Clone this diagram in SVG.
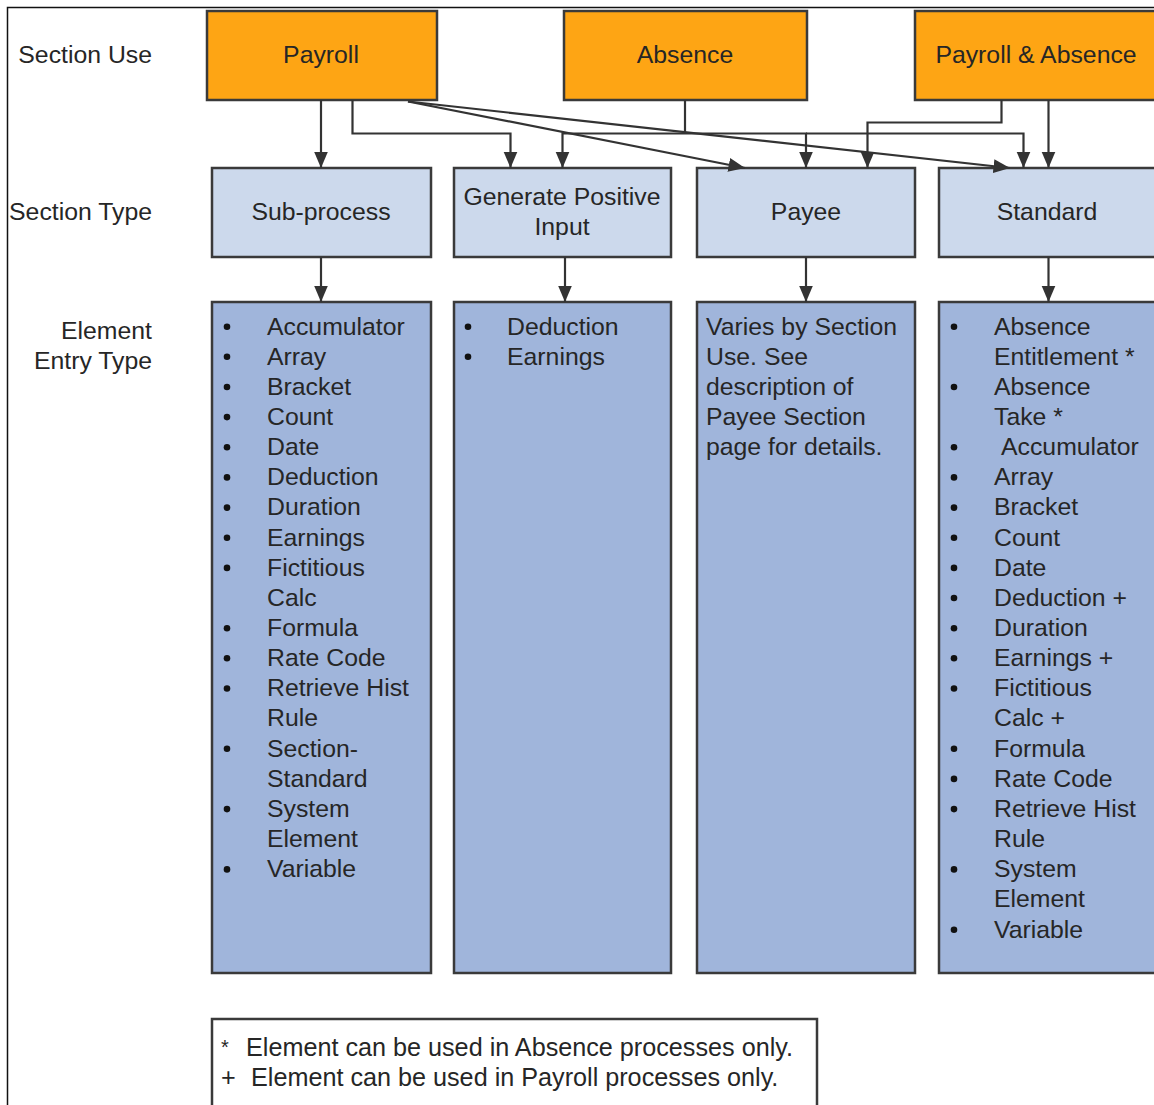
<svg xmlns="http://www.w3.org/2000/svg" width="1154" height="1105" viewBox="0 0 1154 1105">
  <style>
    text { font-family: "Liberation Sans", Arial, sans-serif; font-size: 24.8px; fill: #262626; }
    .mid { text-anchor: middle; }
    .end { text-anchor: end; }
    .note { font-size: 25.2px; }
    .use { fill: #FEA514; stroke: #3a3a3a; stroke-width: 2.5; }
    .type { fill: #CCD9EC; stroke: #3a3a3a; stroke-width: 2.5; }
    .entry { fill: #A0B5DB; stroke: #3a3a3a; stroke-width: 2.5; }
    .legend { fill: #ffffff; stroke: #3a3a3a; stroke-width: 2.5; }
    .wire { fill: none; stroke: #333333; stroke-width: 2.2; marker-end: url(#arrow); }
    .bullet { fill: #111111; }
  </style>
  <defs>
    <marker id="arrow" markerUnits="userSpaceOnUse" markerWidth="18" markerHeight="18" viewBox="0 0 18 18" refX="16.5" refY="9" orient="auto">
      <path d="M0,2 L16.5,9 L0,16 Z" fill="#333333"/>
    </marker>
  </defs>

  <rect width="1154" height="1105" fill="#ffffff"/>
  <!-- page frame -->
  <path d="M7.5,1105 V7.5 H1154" fill="none" stroke="#111111" stroke-width="1.5"/>

  <!-- row labels -->
  <g id="row-labels">
    <text class="end" x="152" y="63">Section Use</text>
    <text class="end" x="152" y="220">Section Type</text>
    <text class="end" x="152" y="339">Element</text>
    <text class="end" x="152" y="369">Entry Type</text>
  </g>

  <!-- section use -->
  <g id="use-payroll">
    <rect class="use" x="207" y="11" width="230" height="89"/>
    <text class="mid" x="321" y="63">Payroll</text>
  </g>
  <g id="use-absence">
    <rect class="use" x="564" y="11" width="243" height="89"/>
    <text class="mid" x="685" y="63">Absence</text>
  </g>
  <g id="use-payroll-absence">
    <rect class="use" x="915" y="11" width="245" height="89"/>
    <text class="mid" x="1036" y="63">Payroll &amp; Absence</text>
  </g>

  <!-- section type -->
  <g id="type-subprocess">
    <rect class="type" x="212" y="168" width="219" height="89"/>
    <text class="mid" x="321" y="220">Sub-process</text>
  </g>
  <g id="type-gpi">
    <rect class="type" x="454" y="168" width="217" height="89"/>
    <text class="mid" x="562" y="205">Generate Positive</text>
    <text class="mid" x="562" y="235">Input</text>
  </g>
  <g id="type-payee">
    <rect class="type" x="697" y="168" width="218" height="89"/>
    <text class="mid" x="806" y="220">Payee</text>
  </g>
  <g id="type-standard">
    <rect class="type" x="939" y="168" width="220" height="89"/>
    <text class="mid" x="1047" y="220">Standard</text>
  </g>

  <!-- element entry types -->
  <g id="entry-subprocess">
    <rect class="entry" x="212" y="302" width="219" height="671"/>
    <g class="bullet">
      <circle cx="227" cy="326.7" r="3.3"/>
      <circle cx="227" cy="356.8" r="3.3"/>
      <circle cx="227" cy="387" r="3.3"/>
      <circle cx="227" cy="417.1" r="3.3"/>
      <circle cx="227" cy="447.3" r="3.3"/>
      <circle cx="227" cy="477.4" r="3.3"/>
      <circle cx="227" cy="507.6" r="3.3"/>
      <circle cx="227" cy="537.7" r="3.3"/>
      <circle cx="227" cy="567.9" r="3.3"/>
      <circle cx="227" cy="628.2" r="3.3"/>
      <circle cx="227" cy="658.3" r="3.3"/>
      <circle cx="227" cy="688.5" r="3.3"/>
      <circle cx="227" cy="748.8" r="3.3"/>
      <circle cx="227" cy="809.1" r="3.3"/>
      <circle cx="227" cy="869.4" r="3.3"/>
    </g>
    <text x="267" y="334.5">Accumulator</text>
    <text x="267" y="364.65">Array</text>
    <text x="267" y="394.8">Bracket</text>
    <text x="267" y="424.95">Count</text>
    <text x="267" y="455.1">Date</text>
    <text x="267" y="485.25">Deduction</text>
    <text x="267" y="515.4">Duration</text>
    <text x="267" y="545.55">Earnings</text>
    <text x="267" y="575.7">Fictitious</text>
    <text x="267" y="605.85">Calc</text>
    <text x="267" y="636">Formula</text>
    <text x="267" y="666.15">Rate Code</text>
    <text x="267" y="696.3">Retrieve Hist</text>
    <text x="267" y="726.45">Rule</text>
    <text x="267" y="756.6">Section-</text>
    <text x="267" y="786.75">Standard</text>
    <text x="267" y="816.9">System</text>
    <text x="267" y="847.05">Element</text>
    <text x="267" y="877.2">Variable</text>
  </g>

  <g id="entry-gpi">
    <rect class="entry" x="454" y="302" width="217" height="671"/>
    <g class="bullet">
      <circle cx="468" cy="326.7" r="3.3"/>
      <circle cx="468" cy="356.8" r="3.3"/>
    </g>
    <text x="507" y="334.5">Deduction</text>
    <text x="507" y="364.65">Earnings</text>
  </g>

  <g id="entry-payee">
    <rect class="entry" x="697" y="302" width="218" height="671"/>
    <text x="706" y="334.5">Varies by Section</text>
    <text x="706" y="364.65">Use. See</text>
    <text x="706" y="394.8">description of</text>
    <text x="706" y="424.95">Payee Section</text>
    <text x="706" y="455.1">page for details.</text>
  </g>

  <g id="entry-standard">
    <rect class="entry" x="939" y="302" width="220" height="671"/>
    <g class="bullet">
      <circle cx="954" cy="326.7" r="3.3"/>
      <circle cx="954" cy="387" r="3.3"/>
      <circle cx="954" cy="447.3" r="3.3"/>
      <circle cx="954" cy="477.4" r="3.3"/>
      <circle cx="954" cy="507.6" r="3.3"/>
      <circle cx="954" cy="537.7" r="3.3"/>
      <circle cx="954" cy="567.9" r="3.3"/>
      <circle cx="954" cy="598" r="3.3"/>
      <circle cx="954" cy="628.2" r="3.3"/>
      <circle cx="954" cy="658.3" r="3.3"/>
      <circle cx="954" cy="688.5" r="3.3"/>
      <circle cx="954" cy="748.8" r="3.3"/>
      <circle cx="954" cy="778.9" r="3.3"/>
      <circle cx="954" cy="809.1" r="3.3"/>
      <circle cx="954" cy="869.4" r="3.3"/>
      <circle cx="954" cy="929.7" r="3.3"/>
    </g>
    <text x="994" y="334.5">Absence</text>
    <text x="994" y="364.65">Entitlement *</text>
    <text x="994" y="394.8">Absence</text>
    <text x="994" y="424.95">Take *</text>
    <text x="1001" y="455.1">Accumulator</text>
    <text x="994" y="485.25">Array</text>
    <text x="994" y="515.4">Bracket</text>
    <text x="994" y="545.55">Count</text>
    <text x="994" y="575.7">Date</text>
    <text x="994" y="605.85">Deduction +</text>
    <text x="994" y="636">Duration</text>
    <text x="994" y="666.15">Earnings +</text>
    <text x="994" y="696.3">Fictitious</text>
    <text x="994" y="726.45">Calc +</text>
    <text x="994" y="756.6">Formula</text>
    <text x="994" y="786.75">Rate Code</text>
    <text x="994" y="816.9">Retrieve Hist</text>
    <text x="994" y="847.05">Rule</text>
    <text x="994" y="877.2">System</text>
    <text x="994" y="907.35">Element</text>
    <text x="994" y="937.5">Variable</text>
  </g>

  <!-- legend -->
  <g id="legend">
    <rect class="legend" x="212" y="1019" width="605" height="100"/>
    <text class="note" x="221" y="1054" style="font-size:20px">*</text>
    <text class="note" x="246" y="1056">Element can be used in Absence processes only.</text>
    <text class="note" x="221" y="1086">+</text>
    <text class="note" x="251" y="1086">Element can be used in Payroll processes only.</text>
  </g>

  <!-- connectors -->
  <g id="connectors">
    <!-- from Payroll -->
    <path class="wire" d="M321,100 V168"/>
    <path class="wire" d="M352.5,100 V133.5 H510.5 V168"/>
    <path class="wire" d="M408,101.5 L745,168"/>
    <path class="wire" d="M408,101.5 L1010,168"/>
    <!-- from Absence -->
    <path d="M685,100 V133.5" fill="none" stroke="#333333" stroke-width="2.2"/>
    <path class="wire" d="M685,133.5 H562.5 V168"/>
    <path class="wire" d="M685,133.5 H806 V168"/>
    <path class="wire" d="M806,133.5 H1023.5 V168"/>
    <!-- from Payroll & Absence -->
    <path class="wire" d="M1001.5,100 V122.5 H867.5 V168"/>
    <path class="wire" d="M1048.5,100 V168"/>
    <!-- section type to element entry type -->
    <path class="wire" d="M321,257 V302"/>
    <path class="wire" d="M565,257 V302"/>
    <path class="wire" d="M806,257 V302"/>
    <path class="wire" d="M1048.5,257 V302"/>
  </g>
</svg>
